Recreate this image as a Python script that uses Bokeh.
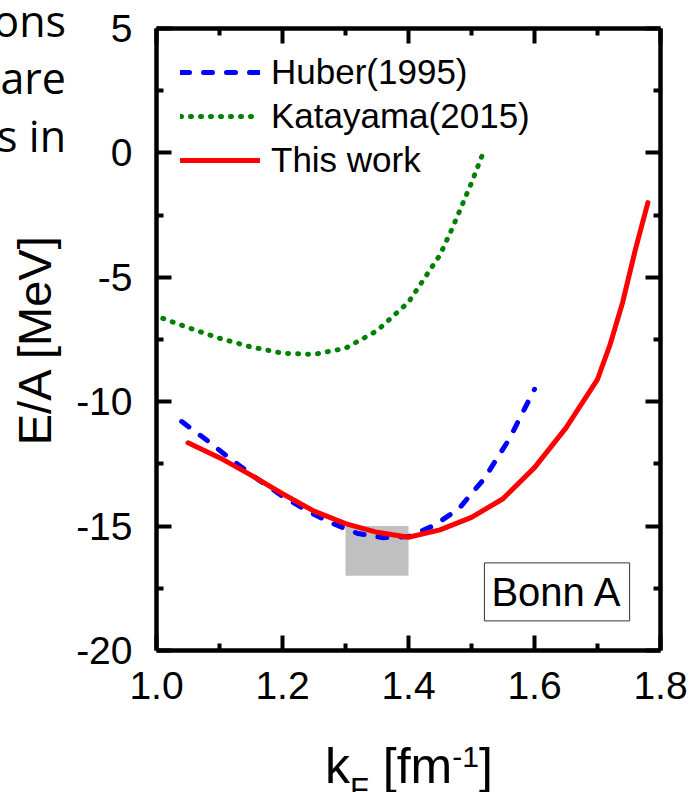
from bokeh.plotting import figure
from bokeh.models import (Label, Legend, LegendItem, LinearAxis, FixedTicker,
                          Range1d, NumeralTickFormatter, GridBox, Div, CustomJSTickFormatter)
from bokeh.embed import file_html
from bokeh.resources import INLINE

# ---------------- data ----------------
huber_k = [1.04, 1.08, 1.12, 1.16, 1.20, 1.24, 1.28, 1.32, 1.36, 1.40, 1.44, 1.48, 1.52, 1.56, 1.60]
huber_e = [-10.8, -11.55, -12.35, -13.1, -13.8, -14.4, -14.9, -15.3, -15.47, -15.42, -14.98, -14.3, -13.1, -11.5, -9.5]

kata_k = [1.01, 1.05, 1.10, 1.15, 1.20, 1.25, 1.30, 1.35, 1.40, 1.45, 1.47, 1.50, 1.52]
kata_e = [-6.65, -7.02, -7.45, -7.8, -8.05, -8.1, -7.85, -7.15, -6.0, -4.1, -3.0, -1.2, 0.1]

this_k = [1.05, 1.10, 1.15, 1.20, 1.25, 1.30, 1.35, 1.40, 1.45, 1.50, 1.55, 1.60, 1.65, 1.70, 1.72, 1.74, 1.76, 1.78]
this_e = [-11.65, -12.25, -12.95, -13.7, -14.4, -14.9, -15.25, -15.45, -15.15, -14.65, -13.9, -12.65, -11.05, -9.1, -7.7, -6.0, -3.9, -2.0]

band_k = [1.3, 1.4]
band_e = [-17.0, -15.0]

series_names = ["Huber(1995)", "Katayama(2015)", "This work"]
box_text = "Bonn A"
y_title = "E/A [MeV]"
x_title = ("k", "F", " [fm", "-1", "]")
side_text = ["ons", "are", "s in"]

x_ticks = [1.0, 1.2, 1.4, 1.6, 1.8]
x_minor = [1.1, 1.3, 1.5, 1.7]
y_ticks = [5, 0, -5, -10, -15, -20]
y_minor = [2.5, -2.5, -7.5, -12.5, -17.5]

FONT = "Liberation Sans"
W, H = 691, 792

p = figure(frame_width=504, frame_height=622,
           min_border_left=156, min_border_top=28, min_border_right=31, min_border_bottom=142,
           x_range=Range1d(1.0, 1.8), y_range=Range1d(-20, 5),
           x_axis_type=None, y_axis_type=None,
           output_backend="svg", toolbar_location=None)
p.outline_line_color = None
p.background_fill_color = "white"
p.border_fill_color = "white"


def style_axis(ax, ticks, minor, fmt, show_labels):
    ax.ticker = FixedTicker(ticks=ticks, minor_ticks=minor)
    ax.axis_line_width = 4.5
    ax.axis_line_color = "black"
    ax.major_tick_line_width = 4
    ax.minor_tick_line_width = 4
    ax.major_tick_in = 15
    ax.major_tick_out = 0
    ax.minor_tick_in = 7
    ax.minor_tick_out = 0
    ax.major_label_text_font = FONT
    ax.major_label_text_color = "black"
    if show_labels:
        ax.formatter = NumeralTickFormatter(format=fmt)
        ax.major_label_text_font_size = "39px"
    else:
        # mirror axis: ticks only, no labels
        ax.formatter = CustomJSTickFormatter(code="return ''")
        ax.major_label_standoff = 0


xb = LinearAxis()
style_axis(xb, x_ticks, x_minor, "0.0", True)
xb.major_label_standoff = 21
p.add_layout(xb, "below")

xt = LinearAxis()
style_axis(xt, x_ticks, x_minor, "0.0", False)
p.add_layout(xt, "above")

yl = LinearAxis()
style_axis(yl, y_ticks, y_minor, "0", True)
yl.major_label_standoff = 24
yl.axis_label = y_title
yl.axis_label_text_font = FONT
yl.axis_label_text_font_size = "47px"
yl.axis_label_text_font_style = "normal"
yl.axis_label_text_color = "black"
yl.axis_label_standoff = 12
p.add_layout(yl, "left")

yr = LinearAxis()
style_axis(yr, y_ticks, y_minor, "0", False)
p.add_layout(yr, "right")

# shaded empirical saturation region
p.quad(left=[band_k[0]], right=[band_k[1]], bottom=[band_e[0]], top=[band_e[1]],
       fill_color="#c0c0c0", line_color=None)

r_kata = p.line(kata_k, kata_e, line_color="#008000", line_width=5,
                line_dash="1 9", line_cap="round")
r_hub = p.line(huber_k, huber_e, line_color="#0000ff", line_width=5,
               line_dash="9 14", line_cap="round")
r_this = p.line(this_k, this_e, line_color="#ff0000", line_width=5,
                line_join="round", line_cap="round")

legend = Legend(items=[LegendItem(label=series_names[0], renderers=[r_hub]),
                       LegendItem(label=series_names[1], renderers=[r_kata]),
                       LegendItem(label=series_names[2], renderers=[r_this])],
                location="top_left", margin=24, padding=0,
                glyph_width=80, glyph_height=36, label_height=36, spacing=4,
                label_standoff=11, label_text_font=FONT, label_text_font_size="35px",
                label_text_color="black",
                border_line_color=None, background_fill_alpha=0)
p.add_layout(legend)

# "Bonn A" box
p.add_layout(Label(x=1.751, y=-18.81, text=box_text, text_align="right", text_baseline="bottom",
                   text_font=FONT, text_font_size="40px", text_color="black",
                   border_line_color="#333333", border_line_width=1,
                   background_fill_color="white", padding=7))

# ---------- transparent HTML overlay for texts outside the plot frame ----------
k, sub, mid, sup, end = x_title
xlabel_html = (
    f'<div style="position:absolute;left:325px;top:741px;font-family:\'{FONT}\';'
    f'font-size:50px;line-height:50px;white-space:nowrap;color:#000;">'
    f'{k}<span style="font-size:31px;position:relative;top:17px;">{sub}</span>'
    f'{mid}<span style="font-size:30px;position:relative;top:-16px;">{sup}</span>{end}</div>'
)
side_html = "".join(
    f'<div style="position:absolute;right:{W - 66}px;top:{-1.2 + 57.5 * i:.1f}px;'
    f'font-family:\'Open Sans\';font-size:43px;line-height:43px;white-space:nowrap;'
    f'color:#000;text-align:right;">{t}</div>'
    for i, t in enumerate(side_text)
)
overlay = Div(text=f'<div style="position:relative;width:{W}px;height:{H}px;">'
                   f'{xlabel_html}{side_html}</div>',
              width=W, height=H, margin=0)

page = GridBox(children=[(p, 0, 0), (overlay, 0, 0)])
open("out.html", "w").write(file_html(page, INLINE))
